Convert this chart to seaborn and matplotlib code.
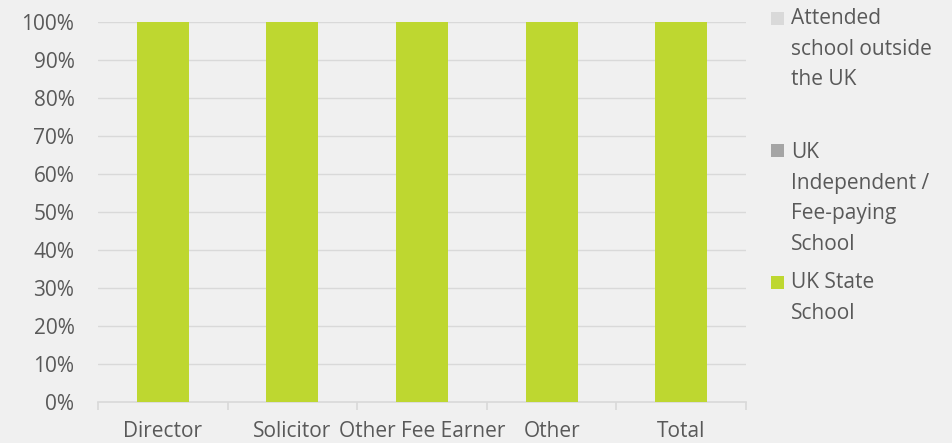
import matplotlib
matplotlib.use("Agg")
import matplotlib.pyplot as plt
import seaborn as sns
import pandas as pd
import numpy as np
from matplotlib.patches import Rectangle
from matplotlib.ticker import FixedLocator, PercentFormatter

roles = ["Director", "Solicitor", "Other Fee Earner", "Other", "Total"]
uk_state = [100, 100, 100, 100, 100]
uk_independent = [0, 0, 0, 0, 0]
outside_uk = [0, 0, 0, 0, 0]

series_labels = ["UK State\nSchool",
                 "UK\nIndependent /\nFee-paying\nSchool",
                 "Attended\nschool outside\nthe UK"]
series_colors = ["#BED730", "#A5A5A5", "#D9D9D9"]

bg = "#F0F0F0"
grid_c = "#D9D9D9"
text_c = "#595959"
fs = 15

sns.set_theme(style="white")
plt.rcParams["font.family"] = ["Open Sans", "DejaVu Sans"]

df = pd.DataFrame({"role": roles, "state": uk_state,
                   "indep": uk_independent, "outside": outside_uk})
# cumulative tops, drawn from the highest layer down
df["top_outside"] = df["state"] + df["indep"] + df["outside"]
df["top_indep"] = df["state"] + df["indep"]

fig = plt.figure(figsize=(9.53, 4.43), dpi=100, facecolor=bg)
ax = fig.add_axes([98 / 953, 1 - 402 / 443, 648 / 953, 380 / 443])
ax.set_facecolor(bg)

for col, color in [("top_outside", series_colors[2]),
                   ("top_indep", series_colors[1]),
                   ("state", series_colors[0])]:
    sns.barplot(data=df, x="role", y=col, color=color, width=0.4,
                saturation=1, linewidth=0, ax=ax, zorder=3)

ax.set_xlim(-0.5, len(roles) - 0.5)
ax.set_ylim(0, 100)
ax.set_yticks(np.arange(0, 101, 10))
ax.yaxis.set_major_formatter(PercentFormatter(decimals=0))
ax.yaxis.grid(True, color=grid_c, linewidth=1)
ax.set_axisbelow(True)
ax.set_xlabel("")
ax.set_ylabel("")

for s in ["top", "right", "left"]:
    ax.spines[s].set_visible(False)
ax.spines["bottom"].set_color(grid_c)
ax.spines["bottom"].set_linewidth(1.2)

ax.xaxis.set_minor_locator(FixedLocator(np.arange(-0.5, len(roles), 1)))
ax.tick_params(axis="x", which="major", length=0, pad=14,
               labelsize=fs, labelcolor=text_c)
ax.tick_params(axis="x", which="minor", length=6, width=1.2,
               color=grid_c, direction="out", bottom=True)
ax.tick_params(axis="y", length=0, pad=17, labelsize=fs, labelcolor=text_c)

# legend, top to bottom in reverse stack order
text_top = [8, 142, 272]
box_top = [12, 144, 276]
for label, color, ty, by in zip(series_labels[::-1], series_colors[::-1],
                                text_top, box_top):
    fig.patches.append(Rectangle((771 / 953, 1 - (by + 13) / 443), 13 / 953, 13 / 443,
                                 transform=fig.transFigure, facecolor=color,
                                 edgecolor="none"))
    fig.text(791 / 953, 1 - ty / 443, label, ha="left", va="top",
             fontsize=fs, color=text_c, linespacing=1.6)

fig.savefig("out.png", dpi=100, facecolor=bg)
